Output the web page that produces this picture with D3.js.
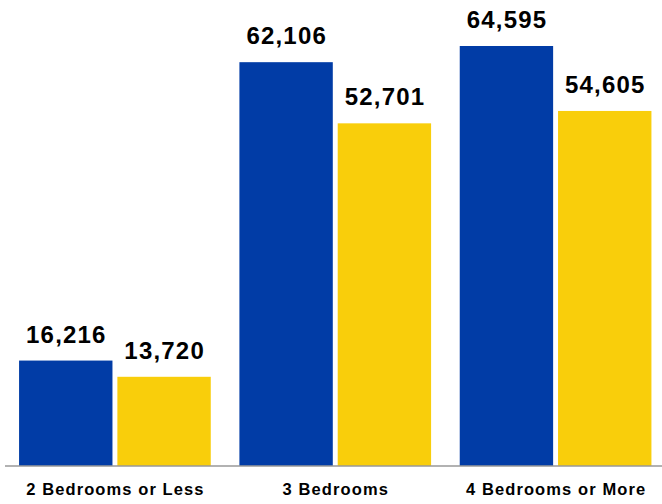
<!DOCTYPE html>
<html>
<head>
<meta charset="utf-8">
<script src="https://cdn.jsdelivr.net/npm/d3@7"></script>
<style>
  body { margin: 0; background: #fff; }
  text { font-family: "Liberation Sans", Arial, sans-serif; font-weight: bold; fill: #000; }
</style>
</head>
<body>
<div id="wrapper"></div>
<script>
const categories = ["2 Bedrooms or Less", "3 Bedrooms", "4 Bedrooms or More"];
const seriesNames = ["a", "b"];
const seriesA = [16216, 62106, 64595];
const seriesB = [13720, 52701, 54605];
const colors = ["#013ca6", "#f9ce0b"];

const width = 662, height = 504;
const baseline = 466;

const data = categories.map((c, i) => ({ cat: c, values: [seriesA[i], seriesB[i]] }));

const svg = d3.select("#wrapper")
  .append("svg")
  .attr("width", width)
  .attr("height", height);

const x0 = d3.scaleBand()
  .domain(categories)
  .range([4.75, 665.75])
  .paddingInner(0.13)
  .paddingOuter(0.065);

const x1 = d3.scaleBand()
  .domain(seriesNames)
  .range([0, x0.bandwidth()])
  .paddingInner(0.05);

const y = d3.scaleLinear()
  .domain([0, 64595])
  .range([baseline, 46]);

const groups = svg.append("g")
  .selectAll("g")
  .data(data)
  .enter()
  .append("g")
  .attr("transform", d => `translate(${x0(d.cat)},0)`);

const bars = groups.selectAll("g")
  .data(d => d.values.map((v, j) => ({ key: seriesNames[j], v: v, j: j })))
  .enter()
  .append("g");

bars.append("rect")
  .attr("x", d => x1(d.key))
  .attr("y", d => y(d.v))
  .attr("width", x1.bandwidth())
  .attr("height", d => baseline - y(d.v))
  .attr("fill", d => colors[d.j]);

// value labels (letter-spacing to get close to the wider original face)
bars.append("text")
  .attr("x", d => x1(d.key) + x1.bandwidth() / 2 + 0.6)
  .attr("y", d => y(d.v) - 18)
  .attr("text-anchor", "middle")
  .attr("font-size", "24px")
  .attr("letter-spacing", "1.2px")
  .text(d => d3.format(",")(d.v));

// x axis
const xAxis = svg.append("g")
  .attr("transform", `translate(0,${baseline})`)
  .call(d3.axisBottom(x0).tickSize(0).tickPadding(17));

xAxis.select(".domain")
  .attr("stroke", "#999")
  .attr("stroke-width", 1.5)
  .attr("d", `M5,0H662`);

xAxis.selectAll("text")
  .attr("font-size", "16.5px")
  .attr("letter-spacing", "1.1px")
  .attr("dx", "0.5px")
  .attr("font-family", "Liberation Sans, Arial, sans-serif")
  .attr("font-weight", "bold")
  .attr("fill", "#000");
</script>
</body>
</html>
